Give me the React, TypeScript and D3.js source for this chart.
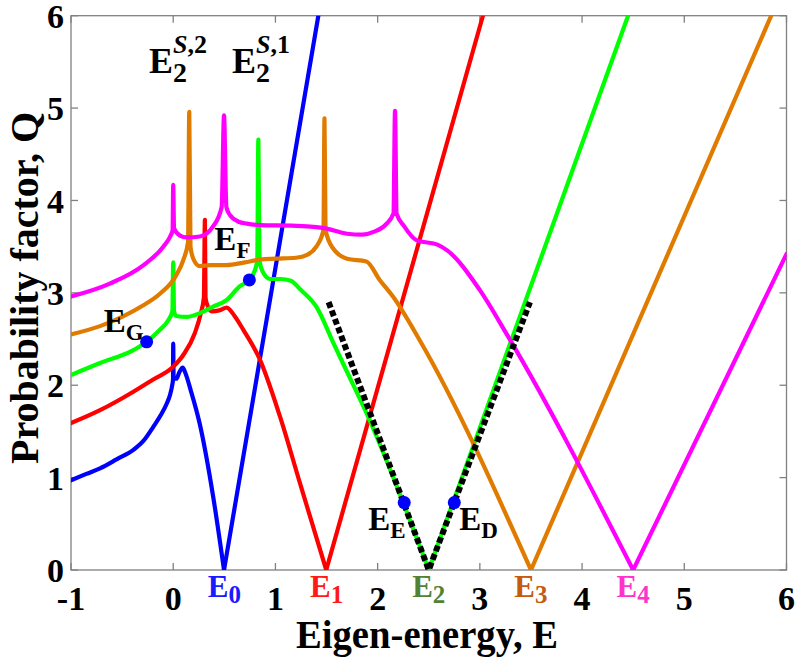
import React, { useMemo } from 'react';
import { scaleLinear, line, curveMonotoneX } from 'd3';

type Pt = [number, number];

// curves: [eigen-energy, Q]
const curveE0: Pt[] = [
  [-1, 0.97], [-0.85, 1.04], [-0.716, 1.1], [-0.55, 1.2], [-0.39, 1.3], [-0.29, 1.4], [-0.195, 1.55],
  [-0.12, 1.68], [-0.064, 1.8], [-0.03, 1.9], [-0.01, 2.0], [-0.002, 2.06], [0, 2.45], [0.004, 2.07],
  [0.03, 2.07], [0.06, 2.14], [0.093, 2.19], [0.12, 2.13], [0.17, 1.95], [0.26, 1.58], [0.39, 0.8],
  [0.497, 0], [1.42, 6],
];
const curveE1: Pt[] = [
  [-1, 1.59], [-0.716, 1.73], [-0.39, 1.93], [-0.2, 2.06], [0, 2.2], [0.1, 2.33], [0.21, 2.56],
  [0.27, 2.78], [0.3, 2.95], [0.31, 3.79], [0.316, 2.95], [0.33, 2.88], [0.376, 2.8], [0.45, 2.81],
  [0.523, 2.84], [0.6, 2.75], [0.686, 2.6], [0.843, 2.29], [1.045, 1.66], [1.24, 0.94], [1.497, 0],
  [3.03, 6],
];
const curveE2: Pt[] = [
  [-1, 2.11], [-0.716, 2.24], [-0.39, 2.38], [-0.26, 2.47], [-0.13, 2.6], [-0.05, 2.7], [-0.008, 2.8],
  [0, 3.33], [0.008, 2.8], [0.03, 2.75], [0.13, 2.74], [0.26, 2.78], [0.39, 2.85], [0.52, 2.92],
  [0.65, 3.07], [0.745, 3.14], [0.79, 3.22], [0.822, 3.35], [0.833, 4.66], [0.844, 3.35], [0.88, 3.22],
  [0.947, 3.15], [1.05, 3.15], [1.15, 3.13], [1.25, 3.03], [1.4, 2.85], [1.57, 2.45], [1.72, 2.1],
  [1.89, 1.7], [2.5, 0], [4.45, 6],
];
const curveE3: Pt[] = [
  [-1, 2.55], [-0.716, 2.64], [-0.5, 2.74], [-0.3, 2.86], [-0.13, 2.99], [0.03, 3.19], [0.1, 3.36],
  [0.145, 3.55], [0.157, 4.96], [0.169, 3.5], [0.2, 3.36], [0.26, 3.29], [0.36, 3.3], [0.52, 3.3],
  [0.7, 3.33], [0.85, 3.36], [1.0, 3.37], [1.2, 3.38], [1.31, 3.41], [1.4, 3.5], [1.47, 3.68],
  [1.48, 4.89], [1.49, 3.68], [1.565, 3.48], [1.7, 3.37], [1.89, 3.34], [2.02, 3.14], [2.15, 2.96],
  [2.41, 2.49], [3.5, 0], [5.85, 6],
];
const curveE4: Pt[] = [
  [-1, 2.96], [-0.62, 3.1], [-0.29, 3.3], [-0.097, 3.5], [-0.03, 3.61], [-0.006, 3.68], [0, 4.17],
  [0.008, 3.7], [0.067, 3.62], [0.13, 3.6], [0.26, 3.61], [0.39, 3.72], [0.474, 3.93], [0.497, 4.92],
  [0.52, 3.93], [0.556, 3.84], [0.64, 3.77], [0.72, 3.75], [0.915, 3.73], [1.01, 3.73], [1.31, 3.72],
  [1.48, 3.7], [1.7, 3.64], [1.85, 3.63], [1.96, 3.66], [2.08, 3.74], [2.155, 3.86], [2.17, 4.97],
  [2.185, 3.86], [2.26, 3.72], [2.38, 3.57], [2.59, 3.52], [2.68, 3.46], [3.0, 3.03], [3.28, 2.52],
  [4.5, 0], [6, 3.42],
];
const asymptote: Pt[] = [[1.52, 2.9], [2.5, 0], [3.49, 2.9]];

const curves = [
  { name: 'E0', pts: curveE0, color: '#0000ff' },
  { name: 'E1', pts: curveE1, color: '#ff0000' },
  { name: 'E2', pts: curveE2, color: '#00ff00' },
  { name: 'E3', pts: curveE3, color: '#e07b00' },
  { name: 'E4', pts: curveE4, color: '#ff00ff' },
];

const markedPoints: { label: string; x: number; y: number }[] = [
  { label: 'G', x: -0.26, y: 2.47 },
  { label: 'F', x: 0.745, y: 3.14 },
  { label: 'E', x: 2.26, y: 0.73 },
  { label: 'D', x: 2.75, y: 0.73 },
];

const xTicks = [-1, 0, 1, 2, 3, 4, 5, 6];
const yTicks = [0, 1, 2, 3, 4, 5, 6];
const levelLabels = [
  { sub: '0', x: 0.5, color: '#1a1aff' },
  { sub: '1', x: 1.5, color: '#ff1a1a' },
  { sub: '2', x: 2.5, color: '#548235' },
  { sub: '3', x: 3.5, color: '#c55a11' },
  { sub: '4', x: 4.5, color: '#ff33cc' },
];

const FONT = '"Liberation Serif", "Times New Roman", serif';

// split a curve at its zero (the V tip) so smoothing keeps the corner sharp
const splitAtZero = (pts: Pt[]): Pt[][] => {
  const parts: Pt[][] = [];
  let cur: Pt[] = [];
  pts.forEach(p => {
    cur.push(p);
    if (p[1] === 0) {
      parts.push(cur);
      cur = [p];
    }
  });
  if (cur.length > 1) parts.push(cur);
  return parts;
};

const App: React.FC = () => {
  const width = 800;
  const height = 661;
  const plot = { left: 71, right: 786.5, top: 15.7, bottom: 570 };

  const { xScale, yScale, smoothLine, straightLine } = useMemo(() => {
    const xScale = scaleLinear().domain([-1, 6]).range([plot.left, plot.right]);
    const yScale = scaleLinear().domain([0, 6]).range([plot.bottom, plot.top]);
    const smoothLine = line<Pt>().x(d => xScale(d[0])).y(d => yScale(d[1])).curve(curveMonotoneX);
    const straightLine = line<Pt>().x(d => xScale(d[0])).y(d => yScale(d[1]));
    return { xScale, yScale, smoothLine, straightLine };
  }, []);

  // label offsets for the marked points (pixels relative to dot)
  const labelPos: Record<string, [number, number]> = {
    G: [-43, -10],
    F: [-35, -30],
    E: [-36, 27],
    D: [5, 27],
  };

  return (
    <svg width={width} height={height} style={{ position: 'absolute', left: 0, top: 0, background: '#fff' }}>
      <defs>
        <clipPath id="plotClip">
          <rect x={plot.left} y={plot.top} width={plot.right - plot.left} height={plot.bottom - plot.top} />
        </clipPath>
      </defs>

      {/* frame + inward ticks */}
      <rect x={plot.left} y={plot.top} width={plot.right - plot.left} height={plot.bottom - plot.top}
        fill="none" stroke="#808080" strokeWidth={1.3} />
      {xTicks.map(t => (
        <g key={'xt' + t} stroke="#808080" strokeWidth={1.3}>
          <line x1={xScale(t)} x2={xScale(t)} y1={plot.bottom} y2={plot.bottom - 7} />
          <line x1={xScale(t)} x2={xScale(t)} y1={plot.top} y2={plot.top + 7} />
        </g>
      ))}
      {yTicks.map(t => (
        <g key={'yt' + t} stroke="#808080" strokeWidth={1.3}>
          <line x1={plot.left} x2={plot.left + 7} y1={yScale(t)} y2={yScale(t)} />
          <line x1={plot.right} x2={plot.right - 7} y1={yScale(t)} y2={yScale(t)} />
        </g>
      ))}

      {/* curves */}
      <g clipPath="url(#plotClip)" fill="none" strokeLinejoin="round" strokeLinecap="round">
        {curves.map(c =>
          splitAtZero(c.pts).map((seg, i) => (
            <path key={c.name + i} d={smoothLine(seg) || ''} stroke={c.color} strokeWidth={4.2} />
          ))
        )}
        <path d={straightLine(asymptote) || ''} stroke="#000" strokeWidth={6} strokeDasharray="6 3"
          strokeLinecap="butt" />
      </g>

      {/* marked points */}
      {markedPoints.map(p => {
        const cx = xScale(p.x);
        const cy = yScale(p.y);
        const [dx, dy] = labelPos[p.label];
        return (
          <g key={p.label}>
            <circle cx={cx} cy={cy} r={6.5} fill="#0000ff" />
            <text x={cx + dx} y={cy + dy} fontFamily={FONT} fontWeight="bold" fontSize={33} fill="#000">
              E<tspan fontSize={23} dy={8}>{p.label}</tspan>
            </text>
          </g>
        );
      })}

      {/* surface-state annotations */}
      {[{ x: 149, s: '2' }, { x: 232, s: '1' }].map(a => (
        <text key={a.s} x={a.x} y={73} fontFamily={FONT} fontWeight="bold" fontSize={36} fill="#000">
          E
          <tspan fontSize={28} dy={9}>2</tspan>
          <tspan fontSize={26} dx={-14} dy={-29} fontStyle="italic">S</tspan>
          <tspan fontSize={26}>,{a.s}</tspan>
        </text>
      ))}

      {/* x tick labels */}
      {xTicks.map(t => (
        <text key={'xl' + t} x={xScale(t)} y={610} textAnchor="middle" fontFamily={FONT}
          fontWeight="bold" fontSize={34} fill="#000">
          {t}
        </text>
      ))}
      {levelLabels.map(l => (
        <text key={'lv' + l.sub} x={xScale(l.x)} y={597} textAnchor="middle" fontFamily={FONT}
          fontWeight="bold" fontSize={31} fill={l.color}>
          E<tspan fontSize={25} dy={6}>{l.sub}</tspan>
        </text>
      ))}

      {/* y tick labels */}
      {yTicks.map(t => (
        <text key={'yl' + t} x={64} y={yScale(t)} dy="0.36em" textAnchor="end" fontFamily={FONT}
          fontWeight="bold" fontSize={34} fill="#000">
          {t}
        </text>
      ))}

      {/* axis titles */}
      <text x={427} y={648} textAnchor="middle" fontFamily={FONT} fontWeight="bold" fontSize={39}
        textLength={262} lengthAdjust="spacingAndGlyphs" fill="#000">
        Eigen-energy, E
      </text>
      <text transform="translate(38,288) rotate(-90)" textAnchor="middle" fontFamily={FONT}
        fontWeight="bold" fontSize={39} textLength={352} lengthAdjust="spacingAndGlyphs" fill="#000">
        Probability factor, Q
      </text>
    </svg>
  );
};

export default App;
